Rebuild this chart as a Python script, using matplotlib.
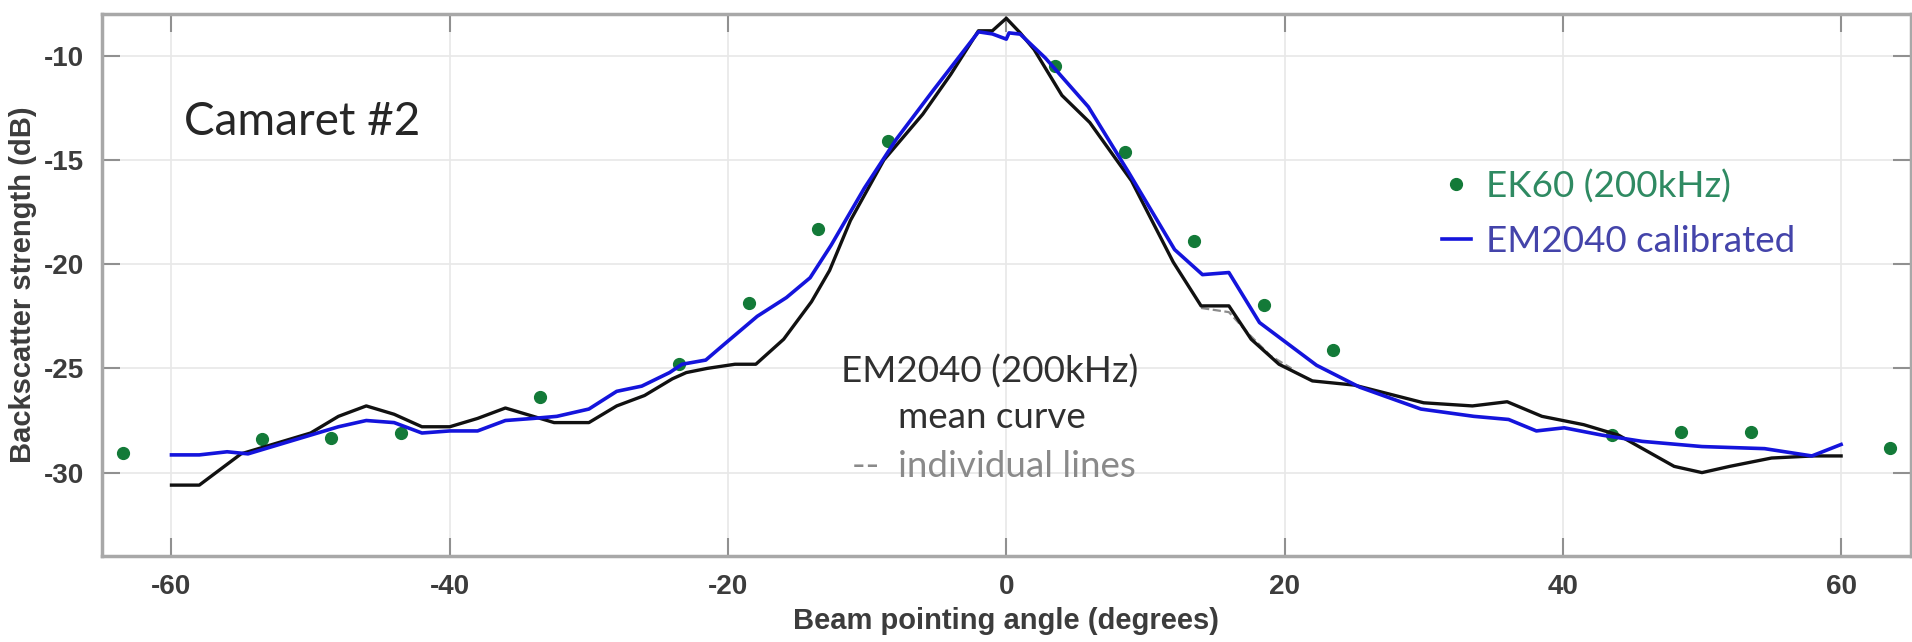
import matplotlib
matplotlib.use('Agg')
import matplotlib.pyplot as plt
import numpy as np

plt.rcParams['axes.unicode_minus'] = False

# EM2040 mean curve (black)
mean_ang = [-60, -58, -55, -50, -48, -46, -44, -42, -40, -38, -36, -34, -32.5, -30, -28, -26,
            -24, -23, -21.5, -19.5, -18, -16, -14, -12.7, -11.2, -8.8, -6, -4, -2, -1, 0, 1, 2,
            4, 6, 9, 12, 14, 16, 17.6, 19.6, 22, 25, 30, 33.5, 36, 38.5, 41.5, 44, 48, 50, 52,
            55, 58, 60]
mean_bs = [-30.6, -30.6, -29.1, -28.1, -27.3, -26.8, -27.2, -27.8, -27.8, -27.4, -26.9, -27.3,
           -27.6, -27.6, -26.8, -26.3, -25.5, -25.2, -25.0, -24.8, -24.8, -23.6, -21.8, -20.3,
           -17.9, -15.0, -12.8, -10.9, -8.8, -8.8, -8.2, -8.9, -9.7, -11.9, -13.2, -16.0, -19.9,
           -22.0, -22.0, -23.6, -24.8, -25.6, -25.8, -26.65, -26.8, -26.6, -27.3, -27.7, -28.2,
           -29.7, -30.0, -29.7, -29.3, -29.2, -29.2]

# EM2040 calibrated (blue)
cal_ang = [-60, -58, -56, -54.5, -50, -48, -46, -44, -42, -40, -38, -36, -34, -32.3, -30, -28,
           -26.2, -24.2, -23.3, -21.6, -20.2, -17.9, -15.8, -14.1, -12.6, -10.2, -7.9, -5.3, -2,
           -1, 0, 0.2, 1, 2.8, 5.9, 8.8, 12.1, 14.1, 16, 18.2, 20.4, 22.3, 25.4, 29.8, 33.6,
           36.1, 38.1, 40.1, 42.8, 45.7, 50, 54.5, 57.9, 60]
cal_bs = [-29.15, -29.15, -29.0, -29.1, -28.2, -27.8, -27.5, -27.6, -28.1, -28.0, -28.0, -27.5,
          -27.4, -27.3, -26.95, -26.1, -25.85, -25.2, -24.8, -24.6, -23.8, -22.5, -21.6, -20.65,
          -19.1, -16.35, -14.0, -11.7, -8.85, -8.95, -9.2, -8.9, -8.96, -10.1, -12.45, -15.6,
          -19.3, -20.5, -20.4, -22.8, -23.9, -24.85, -25.9, -26.95, -27.3, -27.45, -28.0,
          -27.85, -28.2, -28.5, -28.75, -28.85, -29.2, -28.65]

# individual line (grey dashed), mostly hidden under the mean
ind_ang = [14, 16, 17.5, 19, 20.5]
ind_bs = [-22.1, -22.3, -23.4, -24.4, -25.0]

# EK60 200 kHz
ek_ang = [-63.5, -53.5, -48.5, -43.5, -33.5, -23.5, -18.5, -13.5, -8.5,
          3.5, 8.5, 13.5, 18.5, 23.5, 43.5, 48.5, 53.5, 63.5]
ek_bs = [-29.05, -28.4, -28.35, -28.1, -26.35, -24.8, -21.85, -18.3, -14.1,
         -10.5, -14.6, -18.9, -21.95, -24.1, -28.2, -28.05, -28.05, -28.8]

xticks = [-60, -40, -20, 0, 20, 40, 60]
yticks = [-30, -25, -20, -15, -10]

fig = plt.figure(figsize=(19.12, 6.42), dpi=100)
ax = fig.add_axes([0.0533, 0.134, 0.946, 0.844])

ax.plot(ek_ang, ek_bs, 'o', color='#137a38', ms=8.5, zorder=2, label='EK60 (200kHz)')
ax.plot(ind_ang, ind_bs, '--', color='#8c8c8c', lw=1.6, zorder=2)
ax.plot(mean_ang, mean_bs, '-', color='#111111', lw=2.4, zorder=3)
ax.plot(cal_ang, cal_bs, '-', color='#1414dc', lw=2.6, zorder=4, label='EM2040 calibrated')

ax.set_xlim(-65, 65)
ax.set_ylim(-34, -8)
ax.set_xticks(xticks)
ax.set_yticks(yticks)
ax.grid(True, color='#e8e8e8', lw=1.2)
ax.set_axisbelow(True)
for s in ax.spines.values():
    s.set_color('#a8a8a8')
    s.set_linewidth(2.5)
ax.tick_params(direction='in', length=13, width=1.5, color='#909090',
               top=True, right=True, labelsize=20, labelcolor='#3c3c3c', pad=13)
for t in ax.get_xticklabels() + ax.get_yticklabels():
    t.set_fontfamily('Liberation Sans')
    t.set_fontweight('bold')

ax.set_xlabel('Beam pointing angle (degrees)', fontsize=21, fontweight='bold',
              family='Liberation Sans', color='#3c3c3c', labelpad=5)
ax.set_ylabel('Backscatter strength (dB)', fontsize=21, fontweight='bold',
              family='Liberation Sans', color='#3c3c3c', labelpad=5)

ax.text(-59.1, -13.8, 'Camaret #2', fontsize=33, family='Lato', color='#262626')
ax.text(-1.2, -25.7, 'EM2040 (200kHz)', fontsize=26.5, family='Lato', color='#303030', ha='center')
ax.text(-1.0, -27.85, 'mean curve', fontsize=26.5, family='Lato', color='#303030', ha='center')
ax.text(-0.9, -30.2, '--  individual lines', fontsize=26.5, family='Lato', color='#8a8a8a', ha='center')

leg = ax.legend(loc='upper left', bbox_to_anchor=(0.7224, 0.775), frameon=False,
                prop={'family': 'Lato', 'size': 26.5},
                handlelength=0.8, handletextpad=0.4, labelspacing=0.58,
                labelcolor=['#2f8a62', '#4444aa'])

fig.savefig('out.png', dpi=100)
